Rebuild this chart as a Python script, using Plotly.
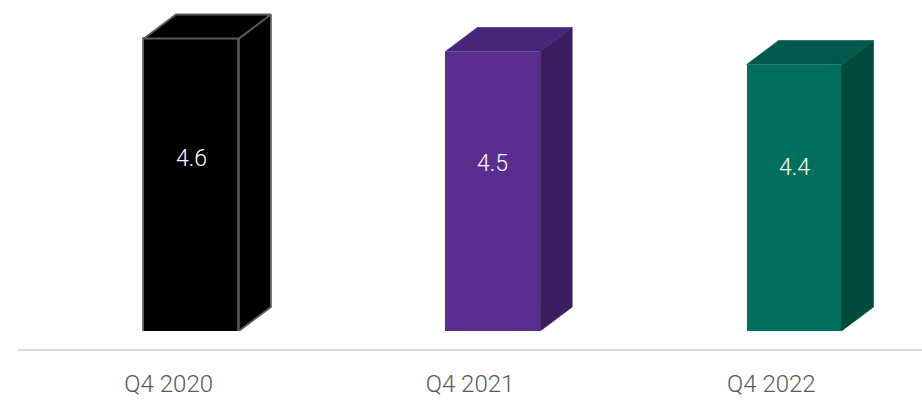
import plotly.graph_objects as go

# Chart data
categories = ["Q4 2020", "Q4 2021", "Q4 2022"]
values = [4.6, 4.5, 4.4]
value_labels = ["4.6", "4.5", "4.4"]

# Face colours per bar: front, top, side
front_colors = ["#000000", "#5a2e91", "#006f5e"]
top_colors = ["#000000", "#47257a", "#005a4b"]
side_colors = ["#000000", "#3a1f60", "#004a3e"]
edge_colors = ["#5a5a5a", None, None]

# Figure geometry
W, H = 922, 404
ML, MR, MT, MB = 18, 0, 0, 73
plot_w = W - ML - MR
plot_h = H - MT - MB

# Axis scales (value floor of the 3D bars and pixels per value unit)
Y_FLOOR = 2.35
PX_PER_UNIT = 130.0
y_range = [Y_FLOOR, Y_FLOOR + plot_h / PX_PER_UNIT]
x_range = [-0.5, len(categories) - 0.5]
px_per_cat = plot_w / (x_range[1] - x_range[0])

# Bar placement within each category slot and 3D depth (pixels)
BAR_OFFSET = -0.082
BAR_WIDTH = 0.315
DEPTH_DX_PX, DEPTH_DY_PX = 32, 24
ddx = DEPTH_DX_PX / px_per_cat
ddy = DEPTH_DY_PX / PX_PER_UNIT

fig = go.Figure()

for i, (cat, v) in enumerate(zip(categories, values)):
    xl = i + BAR_OFFSET
    xr = xl + BAR_WIDTH
    edge = edge_colors[i]
    lw = 1.8 if edge else 0.6
    # side face
    fig.add_trace(go.Scatter(
        x=[xr, xr + ddx, xr + ddx, xr, xr],
        y=[Y_FLOOR, Y_FLOOR + ddy, v + ddy, v, Y_FLOOR],
        mode="lines", fill="toself", fillcolor=side_colors[i],
        line=dict(color=edge or side_colors[i], width=lw),
        hoverinfo="skip", showlegend=False,
    ))
    # top face
    fig.add_trace(go.Scatter(
        x=[xl, xl + ddx, xr + ddx, xr, xl],
        y=[v, v + ddy, v + ddy, v, v],
        mode="lines", fill="toself", fillcolor=top_colors[i],
        line=dict(color=edge or top_colors[i], width=lw),
        hoverinfo="skip", showlegend=False,
    ))

# front faces
fig.add_trace(go.Bar(
    x=list(range(len(categories))), y=values,
    offset=BAR_OFFSET, width=BAR_WIDTH,
    marker=dict(color=front_colors,
                line=dict(color=[c or f for c, f in zip(edge_colors, front_colors)],
                          width=[1.8 if c else 0 for c in edge_colors])),
    hoverinfo="skip", showlegend=False,
))

# value labels on the front faces
for i, (v, lab) in enumerate(zip(values, value_labels)):
    fig.add_annotation(
        x=i + BAR_OFFSET + BAR_WIDTH / 2, y=(Y_FLOOR + v) / 2,
        text=lab, showarrow=False, yshift=26 + (values[0] - v) * 20,
        font=dict(family="Roboto", size=23, color="#ffffff", weight=300),
    )

# baseline under the bars
fig.add_shape(type="line", xref="paper", yref="paper",
              x0=0, x1=1, y0=-19 / plot_h, y1=-19 / plot_h,
              line=dict(color="#d9d9d9", width=2))

fig.update_layout(
    width=W, height=H,
    margin=dict(l=ML, r=MR, t=MT, b=MB),
    paper_bgcolor="#ffffff", plot_bgcolor="#ffffff",
    bargap=0,
    xaxis=dict(range=x_range, tickmode="array",
               tickvals=list(range(len(categories))), ticktext=categories,
               showgrid=False, zeroline=False, showline=False,
               ticks="", ticklabelstandoff=36,
               tickfont=dict(family="Roboto", size=24, color="#595959", weight=300)),
    yaxis=dict(range=y_range, visible=False, showgrid=False, zeroline=False),
)

fig.write_html("out.html")
